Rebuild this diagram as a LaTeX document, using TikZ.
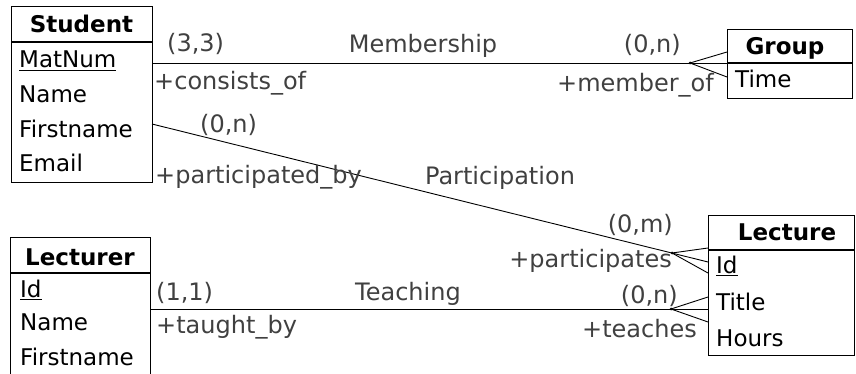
\documentclass[tikz,border=0pt]{standalone}
\usepackage{fontspec}
\setmainfont{DejaVu Sans}
\begin{document}
\begin{tikzpicture}[x=1pt,y=-1pt,
  box/.style={draw, line width=1.2pt, inner sep=0pt, anchor=north west},
  attr/.style={anchor=base west, inner sep=0pt, font=\fontsize{23}{23}\selectfont},
  ttl/.style={anchor=base, inner sep=0pt, font=\fontsize{23}{23}\selectfont\bfseries},
  lbl/.style={inner sep=0pt, text=black!75, font=\fontsize{24}{24}\selectfont},
  conn/.style={line width=0.9pt},
  dot/.style={circle, fill, inner sep=0pt, minimum size=3pt}]
\useasboundingbox (0,0) rectangle (856,374);
% boxes
\node[box, minimum width=141pt, minimum height=176pt] (student) at (11,6) {};
\draw[line width=1.2pt] (11,42) -- (152,42);
\node[ttl] (studentT) at (81.5,33) {Student};
\node[attr] (s1) at (19,68) {\underline{MatNum}};
\node[attr] (s2) at (19,103) {Name};
\node[attr] (s3) at (19,138) {Firstname};
\node[attr] (s4) at (19,172) {Email};

\node[box, minimum width=125pt, minimum height=69pt] (group) at (727,29) {};
\draw[line width=1.2pt] (727,63) -- (852,63);
\node[ttl] (groupT) at (785,55) {Group};
\node[attr] (g1) at (735,88) {Time};

\node[box, minimum width=146pt, minimum height=140pt] (lecture) at (708,215) {};
\draw[line width=1.2pt] (708,250) -- (854,250);
\node[ttl] (lectureT) at (787,240) {Lecture};
\node[attr] (l1) at (716,273) {\underline{Id}};
\node[attr] (l2) at (716,310) {Title};
\node[attr] (l3) at (716,346) {Hours};

\node[box, minimum width=140pt, minimum height=145pt] (lecturer) at (10,237) {};
\draw[line width=1.2pt] (10,273) -- (150,273);
\node[ttl] (lecturerT) at (80,265) {Lecturer};
\node[attr] (r1) at (20,297) {\underline{Id}};
\node[attr] (r2) at (20,330) {Name};
\node[attr] (r3) at (20,365) {Firstname};

% coordinates
\coordinate (mS) at (152,63);
\coordinate (mF) at (690,63);
\coordinate (mE) at (727,63);
\coordinate (mA) at (727,52);
\coordinate (mB) at (727,77);

\coordinate (pS) at (152,124);
\coordinate (pF) at (672,253);
\coordinate (pE) at (708,262);
\coordinate (pA) at (708,248);
\coordinate (pB) at (708,273);

\coordinate (tS) at (150,309);
\coordinate (tF) at (671,309);
\coordinate (tE) at (708,309);
\coordinate (tA) at (708,297);
\coordinate (tB) at (708,322);

\draw[conn] (mS) -- (mE);
\draw[conn] (mF) -- (mA) (mF) -- (mB);
\node[dot] (mD) at (mF) {};
\draw[conn] (pS) -- (pE);
\draw[conn] (pF) -- (pA) (pF) -- (pB);
\node[dot] (pD) at (pF) {};
\draw[conn] (tS) -- (tE);
\draw[conn] (tF) -- (tA) (tF) -- (tB);
\node[dot] (tD) at (tF) {};

% labels
\node[lbl, anchor=base west] (m1) at (167,52) {(3,3)};
\node[lbl, anchor=base] (m2) at (423,53) {Membership};
\node[lbl, anchor=base east] (m3) at (681,53) {(0,n)};
\node[lbl, anchor=base west] (m4) at (154,90) {+consists\_of};
\node[lbl, anchor=base east] (m5) at (714,92) {+member\_of};

\node[lbl, anchor=base west] (p1) at (200,133) {(0,n)};
\node[lbl, anchor=base west] (p2) at (155,183) {+participated\_by};
\node[lbl, anchor=base] (p3) at (500,185) {Participation};
\node[lbl, anchor=base east] (p4) at (673,232) {(0,m)};
\node[lbl, anchor=base east] (p5) at (672,267) {+participates};

\node[lbl, anchor=base west] (t1) at (156,300) {(1,1)};
\node[lbl, anchor=base] (t2) at (408,300) {Teaching};
\node[lbl, anchor=base east] (t3) at (678,303) {(0,n)};
\node[lbl, anchor=base west] (t4) at (156,333) {+taught\_by};
\node[lbl, anchor=base east] (t5) at (697,337) {+teaches};
\end{tikzpicture}
\end{document}
